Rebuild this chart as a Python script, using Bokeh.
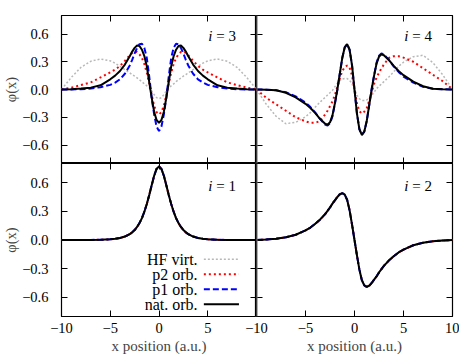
from bokeh.plotting import figure
from bokeh.models import LinearAxis, FixedTicker, Label, Range1d, Span
from bokeh.layouts import column, row
from bokeh.embed import file_html
from bokeh.resources import INLINE

# ---------------- data ----------------
x = [-10, -9, -8, -7, -6, -5, -4.5, -4, -3.5, -3, -2.75, -2.5, -2.25, -2, -1.75, -1.5, -1.25, -1, -0.75, -0.5, -0.25,
     0, 0.25, 0.5, 0.75, 1, 1.25, 1.5, 1.75, 2, 2.25, 2.5, 2.75, 3, 3.5, 4, 4.5, 5, 6, 7, 8, 9, 10]

# i = 3
i3_hf = [0, 0.13, 0.24, 0.305, 0.33, 0.31, 0.285, 0.25, 0.215, 0.18, 0.16, 0.145, 0.125, 0.105, 0.085, 0.06, 0.04, 0.02, -0.015, -0.055, -0.088,
         -0.1, -0.088, -0.055, -0.015, 0.02, 0.04, 0.06, 0.085, 0.105, 0.125, 0.145, 0.16, 0.18, 0.215, 0.25, 0.285, 0.31, 0.33, 0.305, 0.24, 0.13, 0]
i3_p2 = [0, 0.02, 0.048, 0.077, 0.13, 0.185, 0.215, 0.255, 0.31, 0.37, 0.395, 0.41, 0.405, 0.38, 0.34, 0.275, 0.18, 0.065, -0.06, -0.175, -0.245,
         -0.27, -0.245, -0.175, -0.06, 0.065, 0.18, 0.275, 0.34, 0.38, 0.405, 0.41, 0.395, 0.37, 0.31, 0.255, 0.215, 0.185, 0.13, 0.077, 0.048, 0.02, 0]
i3_p1 = [0, 0, 0.003, 0.01, 0.025, 0.05, 0.075, 0.11, 0.17, 0.26, 0.32, 0.39, 0.45, 0.49, 0.495, 0.45, 0.34, 0.14, -0.09, -0.27, -0.40,
         -0.45, -0.40, -0.27, -0.09, 0.14, 0.34, 0.45, 0.495, 0.49, 0.45, 0.39, 0.32, 0.26, 0.17, 0.11, 0.075, 0.05, 0.025, 0.01, 0.003, 0, 0]
i3_nat = [0, 0.003, 0.01, 0.02, 0.045, 0.11, 0.15, 0.2, 0.27, 0.36, 0.41, 0.45, 0.475, 0.47, 0.43, 0.36, 0.25, 0.08, -0.09, -0.24, -0.33,
          -0.36, -0.33, -0.24, -0.09, 0.08, 0.25, 0.36, 0.43, 0.47, 0.475, 0.45, 0.41, 0.36, 0.27, 0.2, 0.15, 0.11, 0.045, 0.02, 0.01, 0.003, 0]

# i = 4
i4_hf = [0, -0.16, -0.29, -0.37, -0.355, -0.295, -0.25, -0.19, -0.135, -0.085, -0.06, -0.035, -0.01, 0.03, 0.065, 0.095, 0.113, 0.12, 0.118, 0.1, 0.06,
         0, -0.06, -0.1, -0.118, -0.12, -0.113, -0.095, -0.065, -0.03, 0.01, 0.035, 0.06, 0.085, 0.135, 0.19, 0.25, 0.295, 0.355, 0.37, 0.29, 0.16, 0]
i4_p2 = [0, -0.09, -0.16, -0.23, -0.30, -0.345, -0.36, -0.36, -0.34, -0.27, -0.23, -0.18, -0.13, -0.06, 0.03, 0.12, 0.2, 0.24, 0.26, 0.235, 0.15,
         0, -0.15, -0.235, -0.26, -0.24, -0.2, -0.12, -0.03, 0.06, 0.13, 0.18, 0.23, 0.27, 0.34, 0.36, 0.36, 0.345, 0.30, 0.23, 0.16, 0.09, 0]
i4_p1 = [0, -0.002, -0.008, -0.03, -0.075, -0.14, -0.19, -0.25, -0.32, -0.38, -0.39, -0.365, -0.29, -0.155, -0.005, 0.17, 0.34, 0.455, 0.49, 0.43, 0.26,
         0, -0.26, -0.43, -0.49, -0.455, -0.34, -0.17, 0.005, 0.155, 0.29, 0.365, 0.39, 0.38, 0.32, 0.25, 0.19, 0.14, 0.075, 0.03, 0.008, 0.002, 0]
i4_nat = [0, -0.002, -0.008, -0.035, -0.085, -0.155, -0.2, -0.255, -0.32, -0.37, -0.38, -0.355, -0.28, -0.15, 0.0, 0.17, 0.34, 0.455, 0.49, 0.43, 0.26,
          0, -0.26, -0.43, -0.49, -0.455, -0.34, -0.17, 0.0, 0.15, 0.28, 0.355, 0.38, 0.37, 0.32, 0.255, 0.2, 0.155, 0.085, 0.035, 0.008, 0.002, 0]

# i = 1 and i = 2 : all four orbitals coincide
i1_all = [0, 0, 0, 0.001, 0.002, 0.007, 0.012, 0.021, 0.036, 0.061, 0.08, 0.104, 0.136, 0.177, 0.229, 0.296, 0.376, 0.471, 0.573, 0.671, 0.743,
          0.77, 0.743, 0.671, 0.573, 0.471, 0.376, 0.296, 0.229, 0.177, 0.136, 0.104, 0.08, 0.061, 0.036, 0.021, 0.012, 0.007, 0.002, 0.001, 0, 0, 0]
i2_all = [0, 0.005, 0.013, 0.028, 0.055, 0.1, 0.13, 0.17, 0.215, 0.27, 0.305, 0.34, 0.38, 0.415, 0.45, 0.478, 0.49, 0.475, 0.42, 0.31, 0.16,
          0, -0.16, -0.31, -0.42, -0.475, -0.49, -0.478, -0.45, -0.415, -0.38, -0.34, -0.305, -0.27, -0.215, -0.17, -0.13, -0.1, -0.055, -0.028, -0.013, -0.005, 0]

series_names = ["HF virt.", "p2 orb.", "p1 orb.", "nat. orb."]
x_ticks = [-10, -5, 0, 5, 10]
x_tick_labels = ["\u221210", "\u22125", "0", "5", "10"]
y_ticks = [-0.6, -0.3, 0.0, 0.3, 0.6]
y_tick_labels = ["\u22120.6", "\u22120.3", "0.0", "0.3", "0.6"]

# ---------------- styling ----------------
FONT = "Liberation Serif"
STYLES = [
    dict(line_color="#b8b8b8", line_width=1.5, line_dash="2 2"),
    dict(line_color="#ff0000", line_width=2.0, line_dash="2 3"),
    dict(line_color="#0000ff", line_width=2.0, line_dash="6 3"),
    dict(line_color="#000000", line_width=2.0),
]


def style_axis(ax, ticks, labels, show):
    ax.ticker = FixedTicker(ticks=ticks)
    ax.major_tick_in = 6
    ax.major_tick_out = 0
    ax.minor_tick_line_color = None
    ax.axis_line_color = None
    ax.major_tick_line_color = "black"
    ax.major_tick_line_width = 1
    if show:
        ax.major_label_overrides = dict(zip(ticks, labels))
        ax.major_label_text_font = FONT
        ax.major_label_text_font_size = "14.5px"
        ax.major_label_text_color = "black"
    else:
        ax.major_label_text_font_size = "0px"
        ax.major_label_text_color = None
        ax.major_label_standoff = 0


def panel(series, idx, width, height, mb, show_x, show_y, hide_last_x=False, margin=None):
    kw = dict(width=width, height=height, x_range=Range1d(-10, 10), y_range=Range1d(-0.8, 0.8),
              output_backend="svg", toolbar_location=None,
              min_border_left=mb[0], min_border_right=mb[1], min_border_top=mb[2], min_border_bottom=mb[3])
    if margin is not None:
        kw["margin"] = margin
    p = figure(**kw)
    p.xgrid.visible = False
    p.ygrid.visible = False
    p.outline_line_color = "black"
    p.outline_line_width = 1.2
    p.border_fill_alpha = 0
    p.background_fill_color = "white"

    labels_x = list(x_tick_labels)
    if hide_last_x:
        labels_x[-1] = ""
    style_axis(p.xaxis[0], x_ticks, labels_x, show_x)
    style_axis(p.yaxis[0], y_ticks, y_tick_labels, show_y)
    if show_x:
        p.xaxis[0].major_label_standoff = 6
        p.xaxis[0].axis_label = "x position (a.u.)"
        p.xaxis[0].axis_label_text_font = FONT
        p.xaxis[0].axis_label_text_font_style = "normal"
        p.xaxis[0].axis_label_text_font_size = "15px"
        p.xaxis[0].axis_label_standoff = 2
    if show_y:
        p.yaxis[0].major_label_standoff = 13
        p.yaxis[0].axis_label = "\u03c6(x)"
        p.yaxis[0].axis_label_text_font = FONT
        p.yaxis[0].axis_label_text_font_style = "normal"
        p.yaxis[0].axis_label_text_font_size = "14.5px"
        p.yaxis[0].axis_label_standoff = 0

    top = LinearAxis()
    style_axis(top, x_ticks, x_tick_labels, False)
    p.add_layout(top, "above")
    right = LinearAxis()
    style_axis(right, y_ticks, y_tick_labels, False)
    p.add_layout(right, "right")

    for ys, st in zip(series, STYLES):
        p.line(x, ys, **st)

    ylab = 0.575 if mb[2] > 0 else 0.567
    p.add_layout(Label(x=7.9, y=ylab, text="= %d" % idx, text_align="right", text_baseline="middle",
                       text_font=FONT, text_font_size="15px", text_color="black"))
    p.add_layout(Label(x=7.9, y=ylab, x_offset=-23.5, text="i", text_align="right", text_baseline="middle",
                       text_font=FONT, text_font_style="italic", text_font_size="15px", text_color="black"))
    return p


tl = panel([i3_hf, i3_p2, i3_p1, i3_nat], 3, 256, 163, (61, 0, 15, 0), False, True)
tr = panel([i4_hf, i4_p2, i4_p1, i4_nat], 4, 217, 163, (14, 7, 15, 0), False, False, margin=(0, 0, 0, -14))
bl = panel([i1_all, i1_all, i1_all, i1_all], 1, 256, 197, (61, 0, 0, 44), True, True, hide_last_x=True)
br = panel([i2_all, i2_all, i2_all, i2_all], 2, 217, 197, (14, 7, 0, 44), True, False, margin=(0, 0, 0, -14))

# dark-grey shared border between the left and right panels
for p in (tr, br):
    p.add_layout(Span(location=-10, dimension="height", line_color="#7a7a7a", line_width=2))

# legend (text left of the sample, as in the reference)
leg_text_x = 3.96
leg_x0, leg_x1 = 4.6, 8.2
leg_y = [-0.2, -0.357, -0.514, -0.671]
for name, st, yy in zip(series_names, STYLES, leg_y):
    bl.add_layout(Label(x=leg_text_x, y=yy, text=name, text_align="right", text_baseline="middle",
                        text_font=FONT, text_font_size="16px", text_color="black"))
    bl.line([leg_x0, leg_x1], [yy, yy], **st)

layout = column(row(tl, tr), row(bl, br))
open("out.html", "w").write(file_html(layout, INLINE))
